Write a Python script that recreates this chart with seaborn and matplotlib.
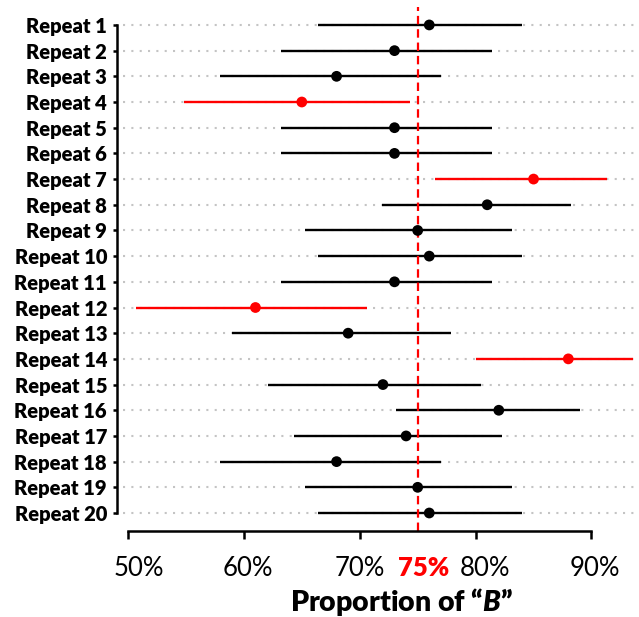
import matplotlib
matplotlib.use("Agg")
import matplotlib.pyplot as plt
import matplotlib.transforms as mtransforms
import seaborn as sns
import pandas as pd

# Point estimates and 95% confidence bounds (percent of "B") for each repeat
repeats = [f"Repeat {i}" for i in range(1, 21)]
estimate = [76, 73, 68, 65, 73, 73, 85, 81, 75, 76,
            73, 61, 69, 88, 72, 82, 74, 68, 75, 76]
lower = [66.4, 63.2, 57.9, 54.8, 63.2, 63.2, 76.5, 71.9, 65.3, 66.4,
         63.2, 50.7, 59.0, 80.0, 62.1, 73.1, 64.3, 57.9, 65.3, 66.4]
upper = [84.0, 81.4, 77.0, 74.3, 81.4, 81.4, 91.3, 88.2, 83.1, 84.0,
         81.4, 70.6, 77.9, 93.6, 80.5, 89.0, 82.3, 77.0, 83.1, 84.0]
reference = 75
xticks = [50, 60, 70, 75, 80, 90]
xticklabels = ["50%", "60%", "70%", "75%", "80%", "90%"]

df = pd.DataFrame({"repeat": repeats, "estimate": estimate,
                   "lower": lower, "upper": upper})
df["excludes"] = (df["lower"] > reference) | (df["upper"] < reference)
colors = {True: "#ff0000", False: "#000000"}

sns.set_theme(style="white")
plt.rcParams["font.family"] = ["Lato", "DejaVu Sans"]
plt.rcParams["mathtext.fontset"] = "custom"
plt.rcParams["mathtext.it"] = "Lato:italic:heavy"
plt.rcParams["mathtext.rm"] = "Lato:heavy"

fig = plt.figure(figsize=(6.39, 6.17), dpi=100)
ax = fig.add_axes([0.1925, 0.139, 0.8075, 0.8497])

# dotted guide per row
ax.hlines(df["repeat"], 49.57, 94.1, colors="#c4c4c4", linewidth=1.5,
          linestyles=[(0, (1, 3))], zorder=1)

# confidence intervals
ax.hlines(df["repeat"], df["lower"], df["upper"],
          colors=[colors[e] for e in df["excludes"]], linewidth=1.7, zorder=2)

# point estimates
sns.scatterplot(data=df, x="estimate", y="repeat", hue="excludes",
                palette=colors, s=60, linewidth=0, legend=False,
                zorder=3, ax=ax)

# reference proportion
ax.axvline(reference, color="#ff0000", linewidth=1.6,
           linestyle=(0, (3.8, 2.2)), zorder=2.5)

ax.set_xlim(49.57, 94.1)
ax.set_ylim(19.71, -0.70)

# spines first: moving a spine resets that axis' ticks
for side in ["top", "right"]:
    ax.spines[side].set_visible(False)
ax.spines["left"].set_position(("outward", 4.5))
ax.spines["left"].set_bounds(0, len(repeats) - 1)
ax.spines["bottom"].set_bounds(50, 90)
for side in ["left", "bottom"]:
    ax.spines[side].set_linewidth(1.8)
    ax.spines[side].set_color("black")

ax.set_xticks(xticks)
ax.set_xticklabels(xticklabels)
ax.set_yticks(range(len(repeats)))
ax.set_yticklabels(repeats)

ax.tick_params(axis="x", direction="out", length=6, width=1.8,
               pad=12, colors="black", bottom=True)
ax.tick_params(axis="y", direction="out", length=3, width=1.8,
               pad=4, colors="black", left=True)
ax.xaxis.get_major_ticks()[3].tick1line.set_visible(False)

# small horizontal nudges of the percentage labels (pixels)
nudges = [11, 4, 0, 6, 9, 3]
for lab, dx in zip(ax.get_xticklabels(), nudges):
    lab.set_fontsize(18.5)
    lab.set_transform(lab.get_transform() +
                      mtransforms.Affine2D().translate(dx, 0))
    if lab.get_text() == "75%":
        lab.set_color("#ff0000")
        lab.set_fontweight("heavy")

for lab in ax.get_yticklabels():
    lab.set_fontsize(14.5)
    lab.set_fontweight("heavy")

ax.set_xlabel("")
ax.set_ylabel("")
fig.text(0.628, 0.009, "Proportion of \u201c$\\mathit{B}$\u201d",
         ha="center", va="baseline", fontsize=20.5, fontweight="heavy",
         color="black")

fig.savefig("out.png", dpi=100)
